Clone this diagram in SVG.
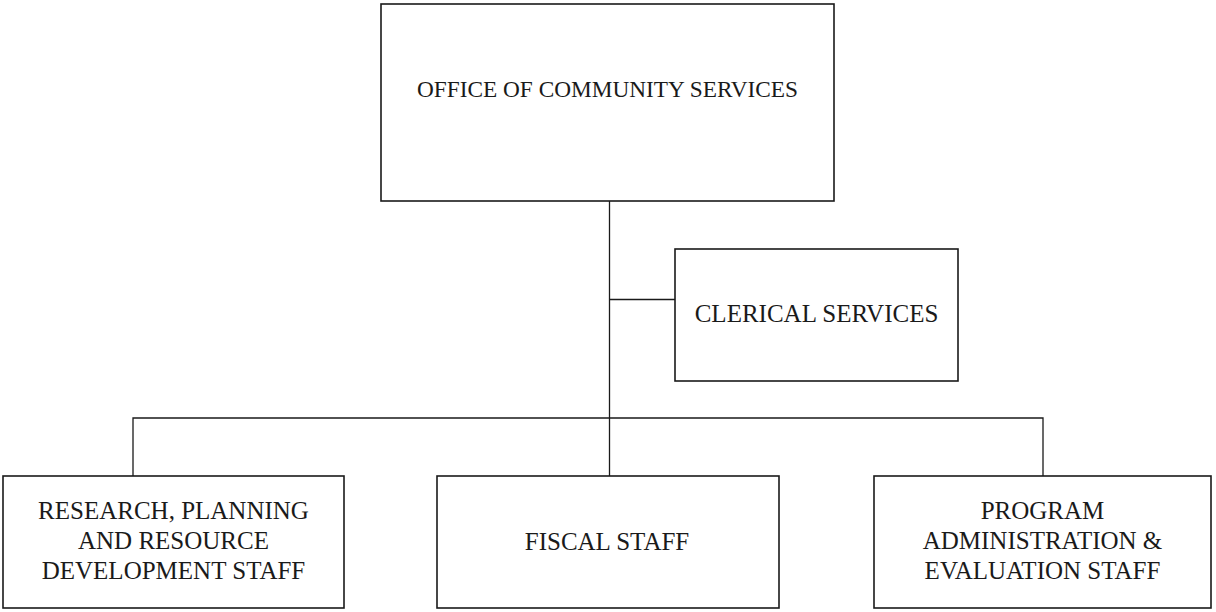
<svg xmlns="http://www.w3.org/2000/svg" width="1216" height="612" viewBox="0 0 1216 612">
<style>
.box{fill:#fff;stroke:#1a1a1a;stroke-width:1.6}
.lbl{font-family:"Liberation Serif","Times New Roman",serif;font-size:25px;fill:#1a1a1a;text-anchor:middle}
.ln{stroke:#1a1a1a;stroke-width:1.3;fill:none}
</style>
<rect width="1216" height="612" fill="#fff"/>
<g id="connectors">
<line class="ln" x1="609.5" y1="201" x2="609.5" y2="476"/>
<line class="ln" x1="609.5" y1="299.5" x2="675" y2="299.5"/>
<polyline class="ln" points="133,476 133,418 1043,418 1043,476"/>
</g>
<g id="node-ocs">
<rect class="box" x="381" y="4" width="453" height="197"/>
<text class="lbl" x="607.5" y="97" style="font-size:23.3px">OFFICE OF COMMUNITY SERVICES</text>
</g>
<g id="node-clerical">
<rect class="box" x="675" y="249" width="283" height="132"/>
<text class="lbl" x="816.5" y="322">CLERICAL SERVICES</text>
</g>
<g id="node-research">
<rect class="box" x="3" y="476" width="341" height="132"/>
<text class="lbl" x="173.5" y="519">RESEARCH, PLANNING</text>
<text class="lbl" x="173.5" y="549">AND RESOURCE</text>
<text class="lbl" x="173.5" y="579">DEVELOPMENT STAFF</text>
</g>
<g id="node-fiscal">
<rect class="box" x="437" y="476" width="342" height="132"/>
<text class="lbl" x="607" y="550">FISCAL STAFF</text>
</g>
<g id="node-program">
<rect class="box" x="874" y="476" width="337" height="132"/>
<text class="lbl" x="1042.5" y="519">PROGRAM</text>
<text class="lbl" x="1042.5" y="549">ADMINISTRATION &amp;</text>
<text class="lbl" x="1042.5" y="579">EVALUATION STAFF</text>
</g>
</svg>
